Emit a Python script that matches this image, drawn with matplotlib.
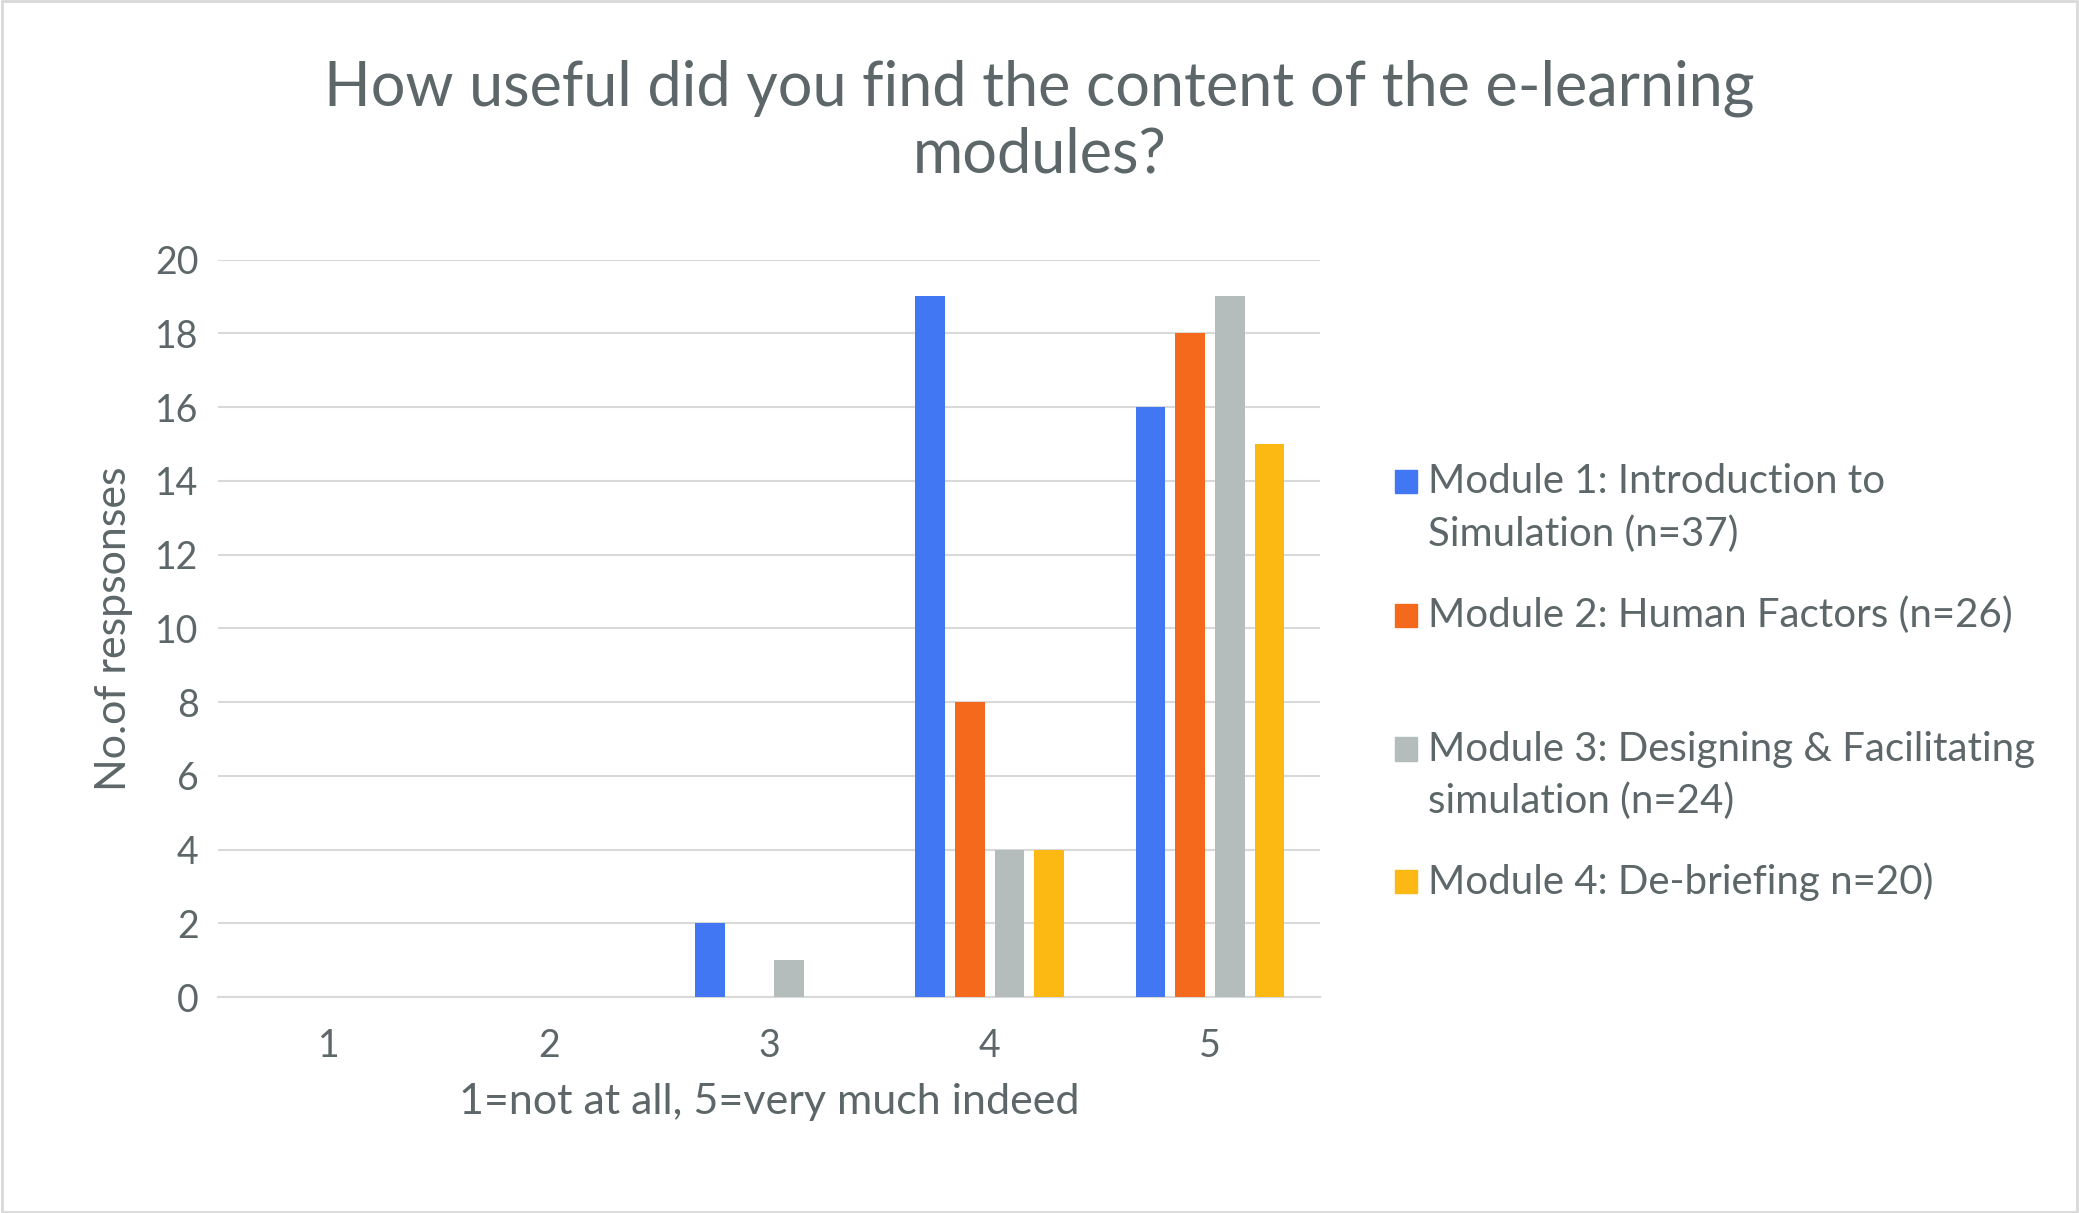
import matplotlib
matplotlib.use("Agg")
import matplotlib.pyplot as plt
import numpy as np
from matplotlib.patches import Rectangle

categories = ["1", "2", "3", "4", "5"]
series_names = ["Module 1: Introduction to\nSimulation (n=37)",
                "Module 2: Human Factors (n=26)",
                "Module 3: Designing & Facilitating\nsimulation (n=24)",
                "Module 4: De-briefing n=20)"]
m1 = [0, 0, 2, 19, 16]
m2 = [0, 0, 0, 8, 18]
m3 = [0, 0, 1, 4, 19]
m4 = [0, 0, 0, 4, 15]
series = [m1, m2, m3, m4]
colors = ["#4177F2", "#F5691C", "#B4BDBB", "#FDB913"]
txt = "#5D6769"

plt.rcParams['font.family'] = ['Lato', 'DejaVu Sans']
fig = plt.figure(figsize=(20.79, 12.13), dpi=100)
ax = fig.add_axes([0.105, 0.178, 0.53, 0.608])
x = np.arange(len(categories))
w = 0.135
step = 0.18
for i, (s, c) in enumerate(zip(series, colors)):
    ax.bar(x + (i - 1.5) * step, s, width=w, color=c, zorder=3)
ax.set_xlim(-0.5, 4.5)
ax.set_ylim(0, 20)
ax.set_yticks(range(0, 21, 2))
ax.set_xticks(x)
ax.set_xticklabels(categories)
ax.grid(axis='y', color='#D9D9D9', lw=1.5, zorder=0)
for sp in ['top', 'right', 'left']:
    ax.spines[sp].set_visible(False)
ax.spines['bottom'].set_color('#D9D9D9')
ax.spines['bottom'].set_linewidth(1.5)
ax.tick_params(length=0, labelsize=27, colors=txt, pad=14)
ax.tick_params(axis='x', pad=22)
ax.set_ylabel("No.of respsonses", fontsize=31, color=txt, labelpad=16)
ax.set_xlabel("1=not at all, 5=very much indeed", fontsize=31, color=txt, labelpad=14)
fig.text(0.5, 0.9, "How useful did you find the content of the e-learning\nmodules?",
         ha='center', va='center', fontsize=44, color=txt, linespacing=1.2)

line_y = [[363, 403], [464], [565, 604], [665]]
for name, c, ys in zip(series_names, colors, line_y):
    f0 = 1 - ys[0] / 915
    fig.patches.append(Rectangle((0.671, f0 - 0.0095), 0.0105, 0.019,
                                 transform=fig.transFigure, color=c))
    for ln, yy in zip(name.split("\n"), ys):
        fig.text(0.687, 1 - yy / 915, ln, ha='left', va='center',
                 fontsize=29, color=txt)
fig.patches.append(Rectangle((0.001, 0.001), 0.998, 0.998, transform=fig.transFigure,
                             fill=False, ec='#D9D9D9', lw=2))
fig.savefig("out.png", dpi=100)
